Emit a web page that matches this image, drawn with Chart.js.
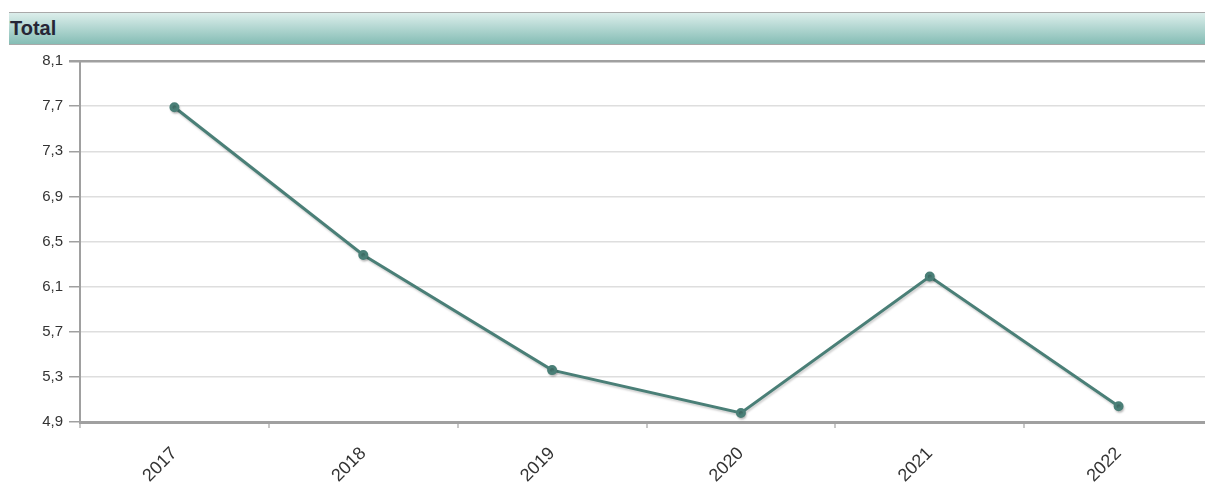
<!DOCTYPE html>
<html>
<head>
<meta charset="utf-8">
<script src="https://cdn.jsdelivr.net/npm/chart.js@4"></script>
<style>
  html, body { margin: 0; padding: 0; background: #fff; overflow: hidden; width: 1205px; height: 488px; }
  .panel-title {
    position: absolute; left: 9px; top: 12px; width: 1220px; height: 31px;
    border-top: 1px solid #a9a9a9; border-bottom: 1px solid #a9a9a9;
    background: linear-gradient(to bottom, #dceeeb, #85bdb5);
    font: bold 20px "Liberation Sans", Arial, sans-serif; color: #262636;
    line-height: 31px; padding-left: 1px; box-sizing: content-box;
  }
  .chart-box { position: absolute; left: 0; top: 45px; width: 1220px; height: 443px; }
</style>
</head>
<body>
<div class="panel-title">Total</div>
<div class="chart-box"><canvas id="totalChart"></canvas></div>
<script>
const years = ["2017", "2018", "2019", "2020", "2021", "2022"];
const totals = [7.69, 6.38, 5.36, 4.98, 6.19, 5.04];
const yTicks = [4.9, 5.3, 5.7, 6.1, 6.5, 6.9, 7.3, 7.7, 8.1];

const lineShadow = {
  id: "lineShadow",
  beforeDatasetsDraw(chart) {
    const c = chart.ctx;
    c.save();
    c.shadowColor = "rgba(0,0,0,0.18)";
    c.shadowOffsetX = 1;
    c.shadowOffsetY = 2;
    c.shadowBlur = 2;
  },
  afterDatasetsDraw(chart) {
    chart.ctx.restore();
  },
};

new Chart(document.getElementById("totalChart"), {
  type: "line",
  data: {
    labels: years,
    datasets: [{
      data: totals,
      borderColor: "#4a7f77",
      backgroundColor: "#4a7f77",
      borderWidth: 3,
      pointRadius: 3.5,
      pointHoverRadius: 4,
      tension: 0,
    }],
  },
  options: {
    responsive: true,
    maintainAspectRatio: false,
    animation: false,
    layout: { padding: { top: 16, right: 4, left: 0, bottom: 0 } },
    plugins: { legend: { display: false }, tooltip: { enabled: false } },
    scales: {
      x: {
        offset: true,
        grid: { offset: true, drawOnChartArea: false, drawTicks: true, tickLength: 6, color: "#c8c8c8", lineWidth: 2 },
        border: { color: "#a0a0a0", width: 3 },
        ticks: {
          minRotation: 45, maxRotation: 45, padding: 15,
          color: "#333", font: { family: "Liberation Sans, Arial, sans-serif", size: 18 },
        },
        afterFit(scale) { scale.height = 66; },
      },
      y: {
        min: 4.9, max: 8.1,
        afterBuildTicks(scale) { scale.ticks = yTicks.map(v => ({ value: v })); },
        grid: {
          color: ctx => (ctx.index === yTicks.length - 1 ? "#a0a0a0" : "#dedede"),
          lineWidth: ctx => (ctx.index === yTicks.length - 1 ? 2.5 : 1.5),
          tickColor: "#a0a0a0", tickLength: 11,
        },
        border: { color: "#a0a0a0", width: 2 },
        ticks: {
          padding: 6, color: "#333",
          font: { family: "Liberation Sans, Arial, sans-serif", size: 15 },
          callback: v => v.toFixed(1).replace(".", ","),
        },
        afterFit(scale) { scale.width = 80; },
      },
    },
  },
  plugins: [lineShadow],
});
</script>
</body>
</html>
